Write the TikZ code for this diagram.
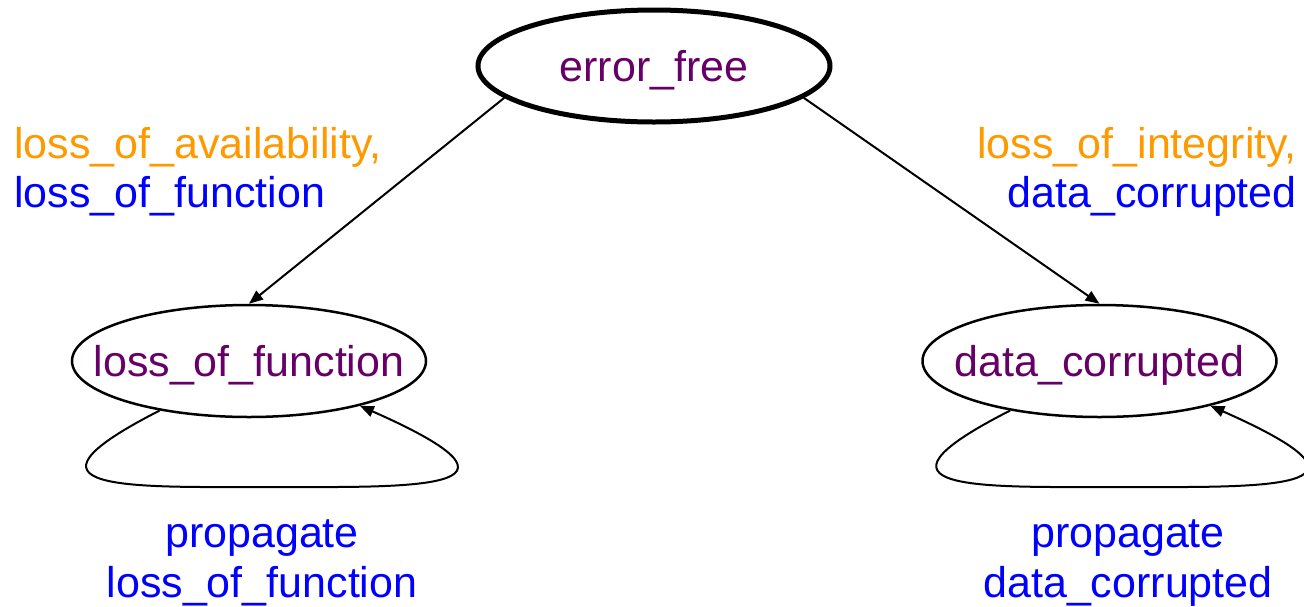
\documentclass[tikz,border=0pt]{standalone}
\usepackage{fontspec}
\setmainfont{Liberation Sans}
\usetikzlibrary{shapes.geometric,arrows.meta}
\definecolor{stname}{RGB}{102,0,102}
\definecolor{evorange}{RGB}{255,153,0}
\definecolor{evblue}{RGB}{0,0,255}
\newcommand{\stlabel}[1]{\raisebox{-15pt}[0pt][0pt]{\makebox[0pt]{#1}}}
\tikzset{
  state/.style={ellipse,draw,line width=2.5pt,minimum width=354pt,minimum height=112pt,inner sep=0pt,text=stname,font=\fontsize{43}{49}\selectfont},
  initstate/.style={state,line width=5pt,minimum width=352pt},
  lab/.style={inner sep=0pt,font=\fontsize{43}{49}\selectfont},
  edge/.style={line width=2pt,-{Triangle[length=14pt,width=11pt]}}
}
\begin{document}
\begin{tikzpicture}[x=1pt,y=-1pt]
\useasboundingbox (0,0) rectangle (1304,606);
\node[initstate] (ef) at (654,66) {\stlabel{error\_free}};
\node[state] (lof) at (249,361) {\stlabel{loss\_of\_function}};
\node[state] (dc) at (1099.5,361) {\stlabel{data\_corrupted}};
% edge labels
\node[lab,anchor=base west,text=evorange] (l1a) at (14,158) {loss\_of\_availability,};
\node[lab,anchor=base west,text=evblue] (l1b) at (14,207) {loss\_of\_function};
\node[lab,anchor=base east,text=evorange] (l2a) at (1297,158) {loss\_of\_integrity,};
\node[lab,anchor=base east,text=evblue] (l2b) at (1297,207) {data\_corrupted};
\node[lab,anchor=base,text=evblue] (l3a) at (262,547) {propagate};
\node[lab,anchor=base,text=evblue] (l3b) at (262,597) {loss\_of\_function};
\node[lab,anchor=base,text=evblue] (l4a) at (1128,547) {propagate};
\node[lab,anchor=base,text=evblue] (l4b) at (1128,597) {data\_corrupted};
% edges
\draw[edge] (ef.192) -- (lof.north);
\draw[edge] (ef.348) -- (dc.north);
\draw[edge] (lof.209) .. controls (0,492) and (130,487) .. (267,487)
  .. controls (410,487) and (555,492) .. (lof.338);
\draw[edge] (dc.209) .. controls (850,492) and (980,487) .. (1117,487)
  .. controls (1260,487) and (1405,492) .. (dc.338);
\end{tikzpicture}
\end{document}
